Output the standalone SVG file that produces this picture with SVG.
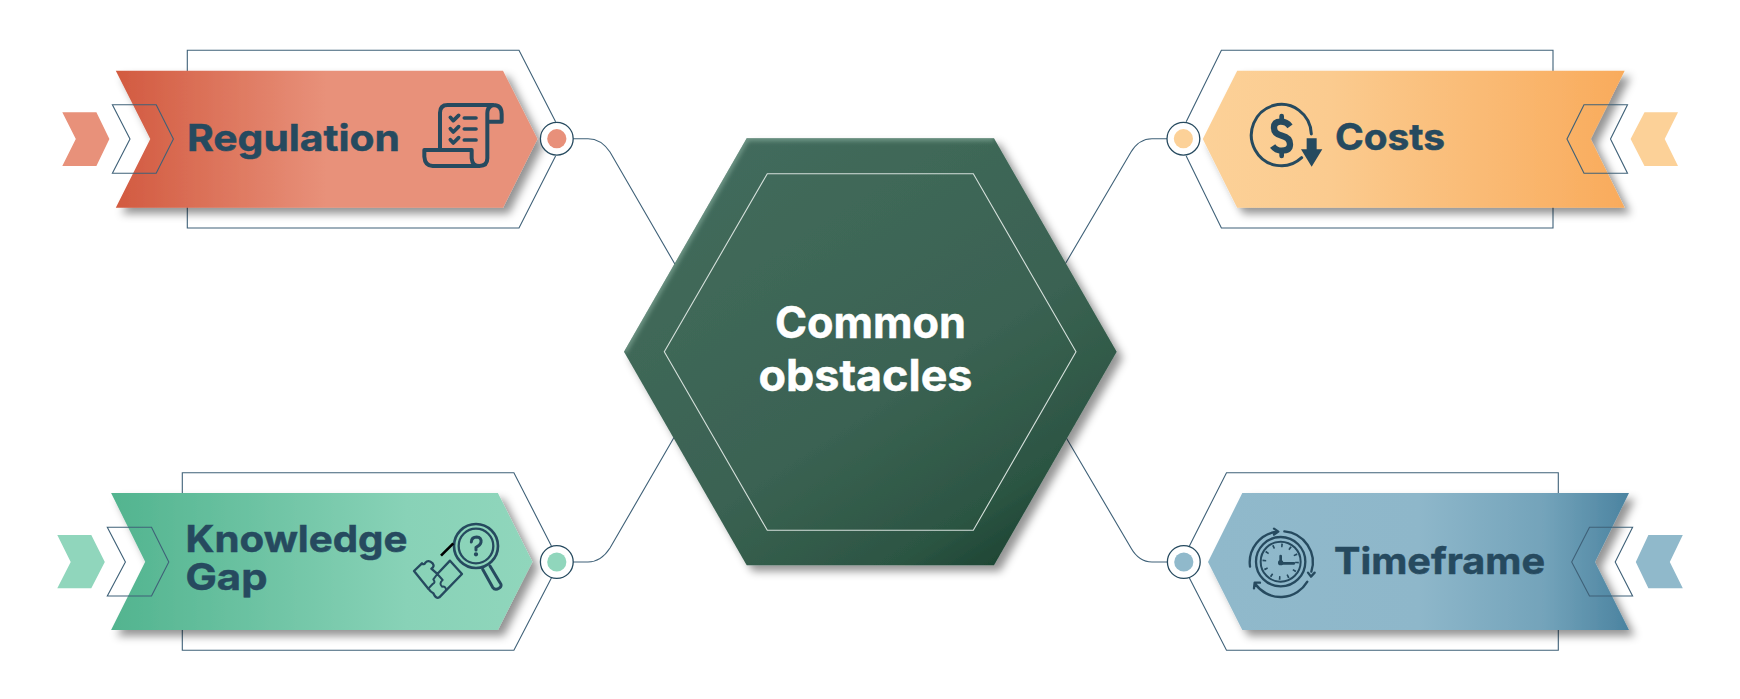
<svg xmlns="http://www.w3.org/2000/svg" width="1740" height="699" viewBox="0 0 1740 699">
<style>
text{font-variant-ligatures:none}
.lbl{font-family:"Inter","Lato","Liberation Sans",sans-serif;font-weight:700;font-size:37px;fill:#264A5F;stroke:#264A5F;stroke-width:.5}
.ctr{font-family:"Inter","Lato","Liberation Sans",sans-serif;font-weight:700;font-size:44px;fill:#fff;stroke:#fff;stroke-width:.5}
.ln{fill:none;stroke:#3F6178;stroke-width:1.1}
.ring{fill:#fff;stroke:#264A5F;stroke-width:1.3}
.ic{fill:none;stroke:#264A5F;stroke-linecap:round;stroke-linejoin:round}
</style>
<defs>
<linearGradient id="gR" x1="0" x2="1" y1="0" y2="0"><stop offset="0" stop-color="#D25A40"/><stop offset=".5" stop-color="#E8917A"/><stop offset="1" stop-color="#E8917A"/></linearGradient>
<linearGradient id="gC" x1="0" x2="1" y1="0" y2="0"><stop offset="0" stop-color="#FCD198"/><stop offset=".3" stop-color="#FBCB8F"/><stop offset="1" stop-color="#F9AB5C"/></linearGradient>
<linearGradient id="gK" x1="0" x2="1" y1="0" y2="0"><stop offset="0" stop-color="#52B48F"/><stop offset=".7" stop-color="#88D2B7"/><stop offset="1" stop-color="#90D6BC"/></linearGradient>
<linearGradient id="gT" x1="0" x2="1" y1="0" y2="0"><stop offset="0" stop-color="#90B9CB"/><stop offset=".5" stop-color="#8EB7CA"/><stop offset=".8" stop-color="#73A3BA"/><stop offset="1" stop-color="#4B83A0"/></linearGradient>
<linearGradient id="gH" x1="0.1" y1="0" x2="0.85" y2="1"><stop offset="0" stop-color="#436C5D"/><stop offset=".6" stop-color="#3A6252"/><stop offset=".85" stop-color="#2C5543"/><stop offset="1" stop-color="#183F2E"/></linearGradient>
<filter id="sh" x="-10%" y="-15%" width="125%" height="135%"><feDropShadow dx="6" dy="6" stdDeviation="4.5" flood-color="#000" flood-opacity=".42"/></filter>
<filter id="bl" x="-10%" y="-10%" width="120%" height="120%"><feGaussianBlur stdDeviation="2.5"/></filter>
<clipPath id="hc"><polygon points="746.7,138.3 994,138.3 1116.7,351.7 994,565.3 746.7,565.3 624,351.7"/></clipPath>
</defs>
<g id="connectors" class="ln">
<path class="ln" d="M573 138.7 H588 Q601 138.7 610 152 L676 266"/>
<path class="ln" d="M1167 138.7 H1152 Q1139 138.7 1131 152 L1064 266"/>
<path class="ln" d="M573 562 H588 Q601 562 610 548 L676 434"/>
<path class="ln" d="M1167 562 H1152 Q1139 562 1131 548 L1064 434"/>
</g>
<g id="center">
<polygon points="746.7,138.3 994,138.3 1116.7,351.7 994,565.3 746.7,565.3 624,351.7" fill="url(#gH)" filter="url(#sh)"/>
<g clip-path="url(#hc)"><path d="M624 351.7 L746.7 138.3 H994" fill="none" stroke="#8FB5A5" stroke-width="4" stroke-opacity=".85" filter="url(#bl)"/></g>
<polygon points="767.3,173.7 973.3,173.7 1076,351.7 973.3,530.3 767.3,530.3 664.3,351.7" fill="none" stroke="#D5E0DB" stroke-width="1.1"/>
<text class="ctr" x="775" y="337.5" textLength="191" lengthAdjust="spacingAndGlyphs">Common</text>
<text class="ctr" x="758.5" y="391" textLength="214" lengthAdjust="spacingAndGlyphs">obstacles</text>
</g>
<g id="regulation">
<path class="ln" d="M555.6 121.7 L519 50.3 H187.3 V228 H519 L555.6 156"/>
<polygon points="115.8,70.7 503,70.7 537.5,139 503,207.7 115.8,207.7 150.3,139" fill="url(#gR)" filter="url(#sh)"/>
<polygon points="62.3,112.3 96.4,112.3 109.4,139 96.4,166 62.3,166 75.8,139" fill="#E8917A"/>
<polygon class="ln" points="112.4,104.7 156.2,104.7 173.4,139 156.2,173.3 112.4,173.3 130,139"/>
<circle class="ring" cx="556.8" cy="138.7" r="16.4"/><circle cx="556.8" cy="138.7" r="9.6" fill="#E8907A"/>
<text class="lbl" x="187" y="150.7" textLength="213" lengthAdjust="spacingAndGlyphs">Regulation</text>
<g class="ic" transform="translate(410 90) scale(.3333)" stroke-width="12">
<path d="M90 178 V68 Q90 45 113 45 H250 Q275 45 275 72 V95 H232 V70 Q232 50 250 45 M232 95 V205 Q232 228 208 228 H68 Q45 228 43 200 V180 H185 V205 Q187 228 208 228"/>
<path d="M121 82 l9 10 l16 -16 M121 116 l9 10 l16 -16 M121 149 l9 10 l16 -16" stroke-width="11"/>
<path d="M163 84 H198 M163 117 H198 M163 150 H198" stroke-width="11"/>
</g>
</g>
<g id="costs">
<path class="ln" d="M1186.2 121.7 L1221.4 50.3 H1553 V228 H1221.4 L1186.2 156"/>
<polygon points="1237.2,70.7 1624.7,70.7 1590.7,139 1624.7,207.7 1237.2,207.7 1202.8,139" fill="url(#gC)" filter="url(#sh)"/>
<polygon points="1678,112.3 1644.5,112.3 1630.6,139 1644.5,166 1678,166 1664.7,139" fill="#FCD198"/>
<polygon class="ln" points="1627.5,104.7 1584,104.7 1567,139 1584,173.3 1627.5,173.3 1610.5,139"/>
<circle class="ring" cx="1183.4" cy="138.7" r="16.4"/><circle cx="1183.4" cy="138.7" r="9.6" fill="#FCD198"/>
<text class="lbl" x="1335" y="149.5" textLength="110" lengthAdjust="spacingAndGlyphs">Costs</text>
<g class="ic" transform="translate(1240 90) scale(.3333)">
<path d="M214 132 A90 92 0 1 0 185 203" stroke-width="9"/>
<path d="M150 109 Q140 95 122 95 Q102 95 102 113 Q102 131 125 137 Q150 143 150 163 Q150 182 125 182 Q108 182 98 168" stroke-width="19" stroke-linecap="butt"/>
<path d="M125 78 V92 M125 186 V198" stroke-width="14"/>
<path d="M200 145 H230 V178 H247 L215 230 L183 178 H200 Z" fill="#264A5F" stroke="none"/>
</g>
</g>
<g id="knowledge-gap">
<path class="ln" d="M551.4 546 L513.9 472.7 H182.3 V650.3 H513.9 L551.4 578"/>
<polygon points="111.1,493 497.9,493 532.4,561.7 497.9,630 111.1,630 145.2,561.7" fill="url(#gK)" filter="url(#sh)"/>
<polygon points="57.3,535 91.3,535 104.8,562 91.3,588.3 57.3,588.3 70.7,562" fill="#90D6BC"/>
<polygon class="ln" points="107.3,527.3 151.5,527.3 168.8,562 151.5,596 107.3,596 125.4,562"/>
<circle class="ring" cx="556.8" cy="562" r="16.4"/><circle cx="556.8" cy="562" r="9.6" fill="#90D6BC"/>
<text class="lbl" x="185.5" y="551.7" textLength="222" lengthAdjust="spacingAndGlyphs">Knowledge</text>
<text class="lbl" x="185.5" y="590.3" textLength="82" lengthAdjust="spacingAndGlyphs">Gap</text>
<g class="ic" transform="translate(400 510) scale(.3333)">
<circle cx="228" cy="108" r="66" stroke-width="8"/><circle cx="228" cy="108" r="52" stroke-width="7"/>
<path d="M248 178 L278 232 Q285 242 297 235 Q308 228 300 218 L270 168" stroke-width="9"/>
<path d="M214 96 Q215 81 230 81 Q245 82 243 97 Q240 107 228 112 V120" stroke-width="9"/><circle cx="228" cy="133" r="3" stroke-width="7"/>
<path d="M123 137 L160 100" stroke="#000" stroke-width="8" stroke-linecap="butt"/>
<path d="M42 183 L66 160 Q72 166 76 158 Q85 148 98 160 Q105 170 94 176 L112 192 L150 152 L186 192 L118 262 Q108 268 100 250 Q92 246 85 236 Z" stroke-width="7"/>
<path d="M112 192 L100 208 Q108 218 98 222 L85 236 M112 192 L128 210 Q116 220 126 230 Q138 228 138 240" stroke-width="6"/>
</g>
</g>
<g id="timeframe">
<path class="ln" d="M1189.4 546 L1226.5 472.7 H1558.3 V650.3 H1226.5 L1189.4 578"/>
<polygon points="1242.3,493 1629,493 1595,562 1629,630 1242.3,630 1208,562" fill="url(#gT)" filter="url(#sh)"/>
<polygon points="1682.8,535 1648.4,535 1635.8,562 1648.4,588.3 1682.8,588.3 1669.8,562" fill="#90B9CB"/>
<polygon class="ln" points="1632.6,527.3 1589.5,527.3 1571.7,562 1589.5,596 1632.6,596 1615.2,562"/>
<circle class="ring" cx="1183.8" cy="562" r="16.4"/><circle cx="1183.8" cy="562" r="9.6" fill="#90B9CB"/>
<text class="lbl" x="1334" y="574" textLength="211" lengthAdjust="spacingAndGlyphs">Timeframe</text>
<g class="ic" transform="translate(1230 510) scale(.3333)">
<circle cx="152" cy="155" r="74" stroke-width="7"/><circle cx="152" cy="155" r="60" stroke-width="6"/>
<circle cx="152" cy="155" r="49" stroke-width="11" stroke-dasharray="5 20.66" stroke-linecap="butt"/>
<path d="M152 160 V138 M152 160 H192" stroke-width="8"/><circle cx="152" cy="158" r="6" fill="#264A5F" stroke-width="4"/>
<path d="M60 170 A93 93 0 0 1 143 65 M132 56 L145 65 L132 74" stroke-width="7"/>
<path d="M163 64 A93 93 0 0 1 244 185 M234 188 L243 200 L254 188" stroke-width="7"/>
<path d="M232 215 A93 93 0 0 1 76 222 M72 235 L74 218 L90 218" stroke-width="7"/>
</g>
</g>
</svg>
